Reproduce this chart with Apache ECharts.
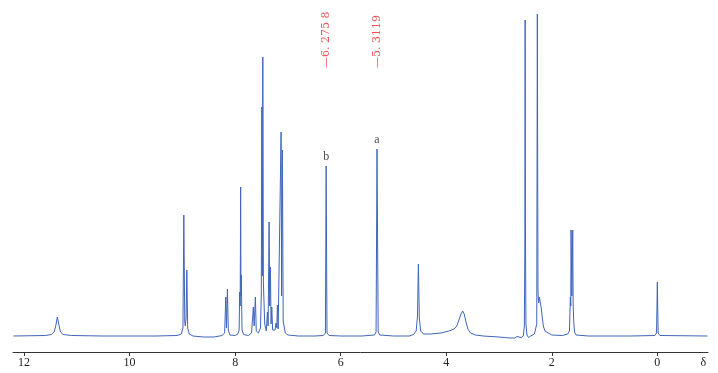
<!DOCTYPE html>
<html>
<head>
<meta charset="utf-8">
<script src="https://cdn.jsdelivr.net/npm/echarts@6/dist/echarts.min.js"></script>
<style>
  html, body { margin: 0; padding: 0; background: #fff; }
  #chart { width: 718px; height: 373px; }
</style>
</head>
<body>
<div id="chart"></div>
<script>
// 1H NMR trace, [ppm, intensity]
const spectrum = [
  [12.2, 0], [11.6, 0.5], [11.48, 1.5], [11.43, 4], [11.40, 10], [11.37, 19], [11.34, 11], [11.31, 4], [11.26, 1.5], [11.1, 0.5],
  [10.5, 0], [9.5, 0], [9.1, 0.5], [9.02, 2], [8.99, 8], [8.973, 121], [8.955, 14], [8.945, 10], [8.93, 18], [8.916, 66],
  [8.90, 8], [8.87, 2], [8.8, 0], [8.6, -1], [8.4, -1], [8.25, 0.5], [8.2, 3], [8.177, 39], [8.165, 8], [8.147, 47],
  [8.13, 6], [8.1, 1], [8.0, 0.5], [7.95, 2], [7.925, 6], [7.915, 44], [7.905, 30], [7.896, 149], [7.89, 40], [7.884, 61],
  [7.87, 6], [7.84, 1.5], [7.75, 0.5], [7.69, 3], [7.655, 29], [7.64, 10], [7.617, 39], [7.60, 5], [7.56, 3], [7.52, 8],
  [7.505, 40], [7.495, 229], [7.485, 60], [7.476, 279], [7.465, 53], [7.44, 12], [7.41, 5], [7.389, 24], [7.375, 10], [7.357, 114],
  [7.345, 30], [7.332, 69], [7.32, 12], [7.306, 29], [7.29, 6], [7.26, 4], [7.245, 6], [7.225, 13], [7.21, 8], [7.20, 31],
  [7.185, 7], [7.173, 9], [7.155, 8], [7.13, 204], [7.12, 40], [7.105, 186], [7.09, 15], [7.05, 3], [7.0, 1], [6.8, 0],
  [6.5, 0], [6.33, 0.5], [6.29, 3], [6.276, 170], [6.26, 3], [6.22, 0.5], [6.0, 0], [5.6, 0], [5.36, 1], [5.33, 4],
  [5.312, 187], [5.29, 4], [5.26, 1], [5.0, 0], [4.7, 0], [4.62, 1.5], [4.57, 5], [4.545, 20], [4.528, 72], [4.51, 18],
  [4.485, 5], [4.43, 2], [4.3, 2], [4.1, 3], [3.95, 5], [3.85, 7], [3.80, 10], [3.76, 16], [3.72, 22], [3.69, 25],
  [3.66, 22], [3.63, 15], [3.59, 7], [3.54, 3], [3.45, 1], [3.3, 0], [3.0, -1], [2.8, -2], [2.7, -2], [2.66, -0.5],
  [2.64, -2], [2.58, -1.5], [2.54, 0], [2.52, 10], [2.51, 96], [2.505, 316], [2.50, 116], [2.49, 12], [2.47, 1], [2.44, -1.5],
  [2.40, 0], [2.33, 2], [2.30, 4], [2.285, 12], [2.274, 322], [2.262, 46], [2.25, 33], [2.235, 39], [2.22, 37], [2.2, 28],
  [2.18, 18], [2.16, 10], [2.13, 5], [2.10, 3], [2.0, 1], [1.8, 0.5], [1.70, 2], [1.665, 5], [1.648, 39], [1.64, 30],
  [1.635, 106], [1.62, 40], [1.603, 106], [1.595, 30], [1.584, 15], [1.57, 4], [1.54, 1], [1.3, 0], [0.5, 0], [0.05, 0.5],
  [0.015, 3], [0.0, 54], [-0.015, 3], [-0.05, 0.5], [-0.95, 0]
];

const xTicks = [0, 2, 4, 6, 8, 10, 12];
const axisUnitPos = -0.87; // where the δ sits

// letter labels over peaks
const peakNames = ['b', 'a'];
const peakPpm = [6.276, 5.312];
const peakHeight = [170, 187];

// red chemical shift marks
const shiftText = ['—6. 275 8', '—5. 3119'];
const shiftPpm = [6.2758, 5.3119];
const shiftLevel = 268;

var myChart = echarts.init(document.getElementById('chart'));
var serif = '"Liberation Serif", "DejaVu Serif", serif';
var option = {
    animation: false,
    grid: { left: 13, right: 10, top: 10, bottom: 21 },
    xAxis: {
        type: 'value',
        inverse: true,
        min: -0.96,
        max: 12.21,
        splitLine: { show: false },
        axisLine: { onZero: false, lineStyle: { color: '#333', width: 1 } },
        axisTick: { customValues: xTicks, length: 4, lineStyle: { color: '#333' } },
        axisLabel: {
            customValues: xTicks.concat([axisUnitPos]),
            margin: 5,
            color: '#222',
            fontSize: 12,
            fontFamily: serif,
            formatter: function (v) {
                return v < 0 ? 'δ' : String(v);
            }
        }
    },
    yAxis: {
        type: 'value',
        min: -16,
        max: 326,
        show: false
    },
    series: [
        {
            type: 'line',
            data: spectrum,
            showSymbol: false,
            symbol: 'none',
            lineStyle: { color: '#3f64b9', width: 1 },
            silent: true
        },
        {
            type: 'scatter',
            symbolSize: 0,
            data: peakNames.map(function (n, i) {
                return { name: n, value: [peakPpm[i], peakHeight[i]] };
            }),
            label: {
                show: true,
                position: 'top',
                distance: 3,
                formatter: '{b}',
                color: '#222',
                fontSize: 12,
                fontFamily: serif
            }
        },
        {
            type: 'scatter',
            symbolSize: 0,
            data: shiftText.map(function (t, i) {
                return { name: t, value: [shiftPpm[i], shiftLevel] };
            }),
            label: {
                show: true,
                position: 'inside',
                rotate: 90,
                align: 'left',
                verticalAlign: 'middle',
                formatter: '{b}',
                color: '#e8262a',
                fontSize: 11,
                fontFamily: '"DejaVu Serif", serif'
            }
        }
    ]
};
myChart.setOption(option);
</script>
</body>
</html>
